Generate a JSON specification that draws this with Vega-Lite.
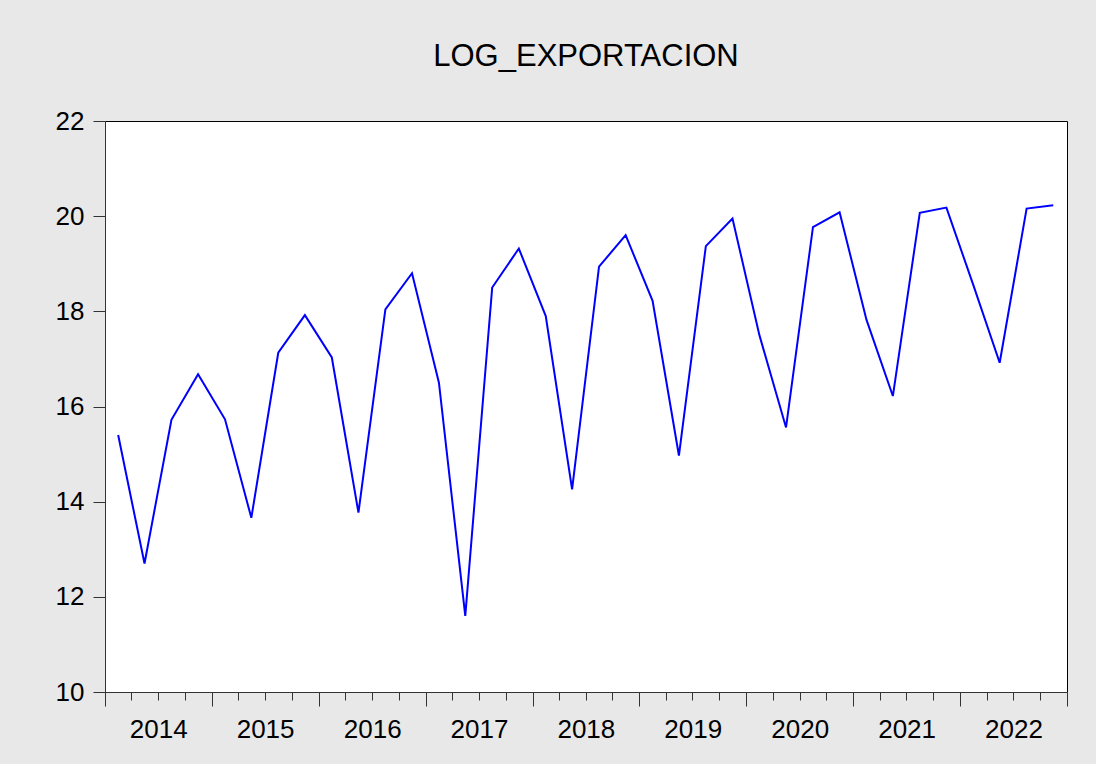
{
  "$schema": "https://vega.github.io/schema/vega-lite/v6.json",
  "width": 962,
  "height": 571,
  "autosize": {"type": "none"},
  "padding": {"left": 105, "top": 121, "right": 29, "bottom": 72},
  "background": "#e8e8e8",
  "title": {
    "text": "LOG_EXPORTACION",
    "font": "Liberation Sans",
    "fontSize": 31,
    "fontWeight": "normal",
    "color": "#000000",
    "anchor": "middle",
    "offset": 35
  },
  "config": {
    "view": {"stroke": "#000000", "strokeWidth": 1, "fill": "#ffffff"},
    "axis": {
      "grid": false,
      "labelFont": "Liberation Sans",
      "labelFontSize": 26,
      "labelColor": "#000000",
      "domainColor": "#333333",
      "tickColor": "#333333",
      "title": null
    }
  },
  "data": {
    "values": [
      {"date": "2014-02-15", "v": 15.40},
      {"date": "2014-05-16", "v": 12.70},
      {"date": "2014-08-16", "v": 15.72},
      {"date": "2014-11-15", "v": 16.68},
      {"date": "2015-02-15", "v": 15.73},
      {"date": "2015-05-16", "v": 13.66},
      {"date": "2015-08-16", "v": 17.13},
      {"date": "2015-11-15", "v": 17.92},
      {"date": "2016-02-15", "v": 17.03},
      {"date": "2016-05-16", "v": 13.77},
      {"date": "2016-08-16", "v": 18.04},
      {"date": "2016-11-15", "v": 18.80},
      {"date": "2017-02-15", "v": 16.50},
      {"date": "2017-05-16", "v": 11.60},
      {"date": "2017-08-16", "v": 18.50},
      {"date": "2017-11-15", "v": 19.32},
      {"date": "2018-02-15", "v": 17.90},
      {"date": "2018-05-16", "v": 14.26},
      {"date": "2018-08-16", "v": 18.94},
      {"date": "2018-11-15", "v": 19.60},
      {"date": "2019-02-15", "v": 18.22},
      {"date": "2019-05-16", "v": 14.97},
      {"date": "2019-08-16", "v": 19.37},
      {"date": "2019-11-15", "v": 19.95},
      {"date": "2020-02-15", "v": 17.50},
      {"date": "2020-05-16", "v": 15.56},
      {"date": "2020-08-16", "v": 19.77},
      {"date": "2020-11-15", "v": 20.08},
      {"date": "2021-02-15", "v": 17.82},
      {"date": "2021-05-16", "v": 16.22},
      {"date": "2021-08-16", "v": 20.07},
      {"date": "2021-11-15", "v": 20.18},
      {"date": "2022-02-15", "v": 18.55},
      {"date": "2022-05-16", "v": 16.92},
      {"date": "2022-08-16", "v": 20.16},
      {"date": "2022-11-15", "v": 20.23}
    ]
  },
  "layer": [
    {
      "mark": {"type": "line", "color": "#0000ff", "strokeWidth": 2, "clip": true},
      "encoding": {
        "x": {
          "field": "date",
          "type": "temporal",
          "scale": {"domain": [{"year": 2014, "month": 1, "date": 1}, {"year": 2023, "month": 1, "date": 1}], "nice": false},
          "axis": {
            "orient": "bottom",
            "values": [
              {"year": 2014, "month": 1, "date": 1}, {"year": 2015, "month": 1, "date": 1}, {"year": 2016, "month": 1, "date": 1},
              {"year": 2017, "month": 1, "date": 1}, {"year": 2018, "month": 1, "date": 1}, {"year": 2019, "month": 1, "date": 1},
              {"year": 2020, "month": 1, "date": 1}, {"year": 2021, "month": 1, "date": 1}, {"year": 2022, "month": 1, "date": 1},
              {"year": 2023, "month": 1, "date": 1}
            ],
            "labels": false,
            "tickSize": 14,
            "domain": true
          }
        },
        "y": {
          "field": "v",
          "type": "quantitative",
          "scale": {"domain": [10, 22], "nice": false, "zero": false},
          "axis": {
            "values": [10, 12, 14, 16, 18, 20, 22],
            "tickSize": 12,
            "labelPadding": 9
          }
        }
      }
    },
    {
      "mark": {"type": "line", "opacity": 0},
      "encoding": {
        "x": {
          "field": "date",
          "type": "temporal",
          "axis": {
            "orient": "bottom",
            "values": [
              {"year": 2014, "month": 4, "date": 1}, {"year": 2014, "month": 7, "date": 1}, {"year": 2014, "month": 10, "date": 1},
              {"year": 2015, "month": 4, "date": 1}, {"year": 2015, "month": 7, "date": 1}, {"year": 2015, "month": 10, "date": 1},
              {"year": 2016, "month": 4, "date": 1}, {"year": 2016, "month": 7, "date": 1}, {"year": 2016, "month": 10, "date": 1},
              {"year": 2017, "month": 4, "date": 1}, {"year": 2017, "month": 7, "date": 1}, {"year": 2017, "month": 10, "date": 1},
              {"year": 2018, "month": 4, "date": 1}, {"year": 2018, "month": 7, "date": 1}, {"year": 2018, "month": 10, "date": 1},
              {"year": 2019, "month": 4, "date": 1}, {"year": 2019, "month": 7, "date": 1}, {"year": 2019, "month": 10, "date": 1},
              {"year": 2020, "month": 4, "date": 1}, {"year": 2020, "month": 7, "date": 1}, {"year": 2020, "month": 10, "date": 1},
              {"year": 2021, "month": 4, "date": 1}, {"year": 2021, "month": 7, "date": 1}, {"year": 2021, "month": 10, "date": 1},
              {"year": 2022, "month": 4, "date": 1}, {"year": 2022, "month": 7, "date": 1}, {"year": 2022, "month": 10, "date": 1}
            ],
            "labels": false,
            "tickSize": 8,
            "domain": false
          }
        },
        "y": {"field": "v", "type": "quantitative"}
      }
    },
    {
      "mark": {"type": "line", "opacity": 0},
      "encoding": {
        "x": {
          "field": "date",
          "type": "temporal",
          "axis": {
            "orient": "bottom",
            "values": [
              {"year": 2014, "month": 7, "date": 2}, {"year": 2015, "month": 7, "date": 2}, {"year": 2016, "month": 7, "date": 2},
              {"year": 2017, "month": 7, "date": 2}, {"year": 2018, "month": 7, "date": 2}, {"year": 2019, "month": 7, "date": 2},
              {"year": 2020, "month": 7, "date": 2}, {"year": 2021, "month": 7, "date": 2}, {"year": 2022, "month": 7, "date": 2}
            ],
            "format": "%Y",
            "ticks": false,
            "domain": false,
            "labelPadding": 24
          }
        },
        "y": {"field": "v", "type": "quantitative"}
      }
    }
  ],
  "resolve": {"axis": {"x": "independent", "y": "shared"}}
}
